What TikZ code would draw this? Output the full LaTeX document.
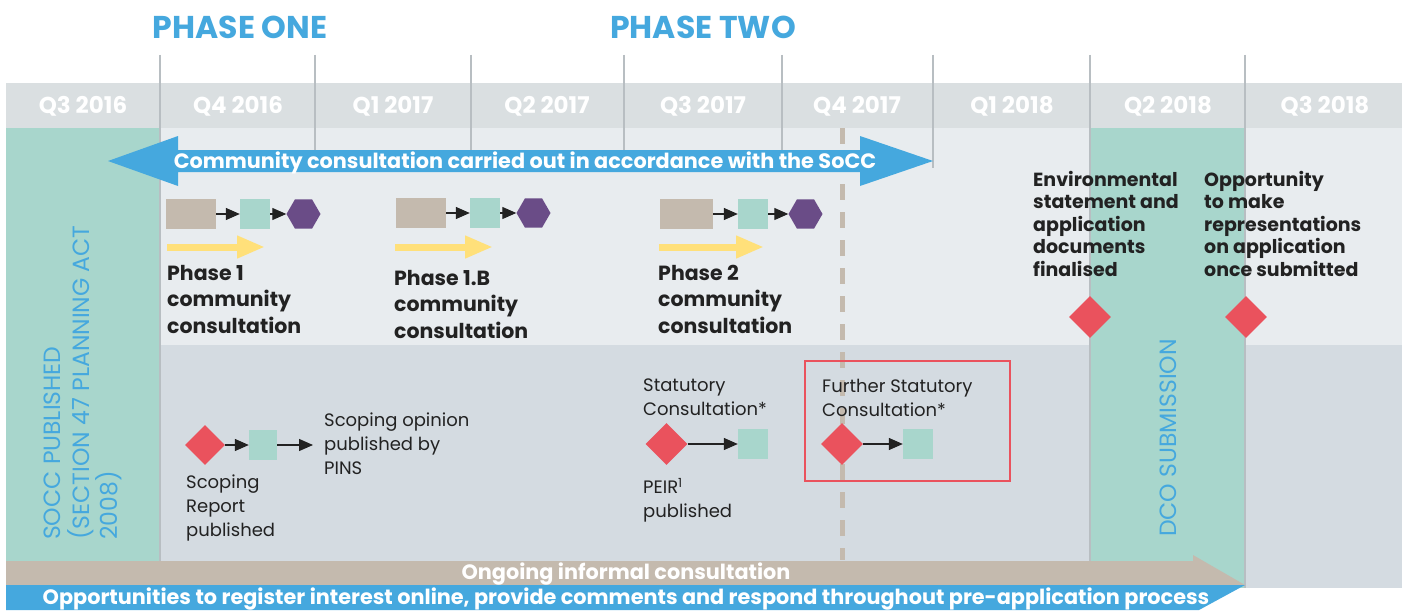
\documentclass[tikz,border=0pt]{standalone}
\usepackage{fontspec}
\setmainfont{Poppins}
\usetikzlibrary{arrows.meta,shapes.geometric}
\definecolor{hdr}{HTML}{DADFE1}
\definecolor{upbg}{HTML}{E8ECEF}
\definecolor{lowbg}{HTML}{D4DBE1}
\definecolor{tealc}{HTML}{A8D6CC}
\definecolor{bluec}{HTML}{45A8DE}
\definecolor{brownc}{HTML}{C4BAAE}
\definecolor{purplec}{HTML}{6A4C87}
\definecolor{redc}{HTML}{EA525D}
\definecolor{yellowc}{HTML}{FFE07A}
\definecolor{darkt}{HTML}{222222}
\definecolor{vlc}{HTML}{B8BEC2}
\begin{document}
\begin{tikzpicture}[x=1pt,y=-1pt,
  qlabel/.style={text=white,font=\bfseries\fontsize{23}{23}\selectfont,inner sep=0pt},
  phasehead/.style={text=bluec,font=\bfseries\fontsize{31.5}{31.5}\selectfont,inner sep=0pt},
  vline/.style={draw=vlc,line width=1.5pt},
  brownbox/.style={fill=brownc,minimum width=50pt,minimum height=30pt,inner sep=0pt},
  tealsq/.style={fill=tealc,minimum width=30pt,minimum height=30pt,inner sep=0pt},
  hexa/.style={regular polygon,regular polygon sides=6,fill=purplec,minimum size=34pt,inner sep=0pt},
  reddia/.style={diamond,fill=redc,minimum width=42pt,minimum height=42pt,inner sep=0pt},
  flow/.style={draw=darkt,line width=1.3pt,-{Triangle[length=14pt,width=12pt]}},
  yarrow/.style={draw=yellowc,line width=7pt,-{Triangle[length=28pt,width=21pt]}},
  phasetxt/.style={text=darkt,font=\bfseries\fontsize{20.5}{26.5}\selectfont,align=left,anchor=north west,inner sep=0pt},
  righttxt/.style={text=darkt,font=\bfseries\fontsize{19}{22.5}\selectfont,align=left,anchor=north west,inner sep=0pt},
  lowtxt/.style={text=darkt,font=\fontsize{18}{24}\selectfont,align=left,anchor=north west,inner sep=0pt},
  verttxt/.style={text=bluec,font=\fontsize{23.5}{28.5}\selectfont,align=left,inner sep=0pt,rotate=90},
  bartxt/.style={text=white,font=\bfseries\fontsize{20.8}{20.8}\selectfont,inner sep=0pt}
]
\useasboundingbox (0,0) rectangle (1407,610);
\fill[white] (0,0) rectangle (1407,610);
% background bands
\fill[hdr] (6,83) rectangle (1402,128);
\fill[upbg] (160,128) rectangle (1402,345);
\fill[lowbg] (160,345) rectangle (1402,588);
\fill[tealc] (6,128) rectangle (160,561);
\fill[tealc] (1090,128) rectangle (1245,588);
% vertical quarter lines
\draw[vline] (160,55) -- (160,561);
\draw[vline] (315,55) -- (315,155);
\draw[vline] (471,55) -- (471,155);
\draw[vline] (624,55) -- (624,155);
\draw[vline] (782,55) -- (782,155);
\draw[vline] (933,55) -- (933,168);
\draw[vline] (1090,55) -- (1090,588);
\draw[vline] (1245,55) -- (1245,588);
% phase headings
\node[phasehead] (p1) at (240,27) {PHASE ONE};
\node[phasehead] (p2) at (703,27) {PHASE TWO};
% quarter labels
\node[qlabel] (q1) at (83,106.5) {Q3 2016};
\node[qlabel] (q2) at (238,106.5) {Q4 2016};
\node[qlabel] (q3) at (393,106.5) {Q1 2017};
\node[qlabel] (q4) at (547,106.5) {Q2 2017};
\node[qlabel] (q5) at (703,106.5) {Q3 2017};
\node[qlabel] (q6) at (857,106.5) {Q4 2017};
\node[qlabel] (q7) at (1012,106.5) {Q1 2018};
\node[qlabel] (q8) at (1168,106.5) {Q2 2018};
\node[qlabel] (q9) at (1325,106.5) {Q3 2018};
% dashed line
\draw[brownc,line width=5pt,dash pattern=on 16pt off 12pt] (842,128) -- (842,560);
% community consultation double arrow
\fill[bluec] (108,161) -- (178,136) -- (178,150) -- (860,150) -- (860,136) -- (933,161)
  -- (860,186) -- (860,172) -- (178,172) -- (178,186) -- cycle;
\node[bartxt] (cc) at (525,163) {Community consultation carried out in accordance with the SoCC};
% vertical labels
\node[verttxt,anchor=north west] (socc) at (44,540) {SOCC PUBLISHED\\(SECTION 47 PLANNING ACT\\2008)};
\node[verttxt] (dco) at (1168,438) {DCO SUBMISSION};
% phase groups
\node[brownbox] (b1) at (191,214) {};
\node[tealsq] (t1) at (255,214) {};
\node[hexa] (h1) at (303.5,214) {};
\draw[flow] (b1) -- (t1);
\draw[flow] (t1) -- (h1);
\coordinate (y1s) at (167,247); \coordinate (y1e) at (265,247);
\draw[yarrow] (y1s) -- (y1e);
\node[phasetxt] (pt1) at (167,265) {Phase 1\\community\\consultation};

\node[brownbox] (b2) at (421,213) {};
\node[tealsq] (t2) at (485,213) {};
\node[hexa] (h2) at (533.5,213) {};
\draw[flow] (b2) -- (t2);
\draw[flow] (t2) -- (h2);
\coordinate (y2s) at (395,247); \coordinate (y2e) at (493,247);
\draw[yarrow] (y2s) -- (y2e);
\node[phasetxt] (pt2) at (394,270) {Phase 1.B\\community\\consultation};

\node[brownbox,minimum width=53pt] (b3) at (686.5,214) {};
\node[tealsq] (t3) at (753,214) {};
\node[hexa] (h3) at (805.5,214) {};
\draw[flow] (b3) -- (t3);
\draw[flow] (t3) -- (h3);
\coordinate (y3s) at (659,247); \coordinate (y3e) at (764,247);
\draw[yarrow] (y3s) -- (y3e);
\node[phasetxt] (pt3) at (658,265) {Phase 2\\community\\consultation};
% right side
\node[righttxt] (env) at (1033,171) {Environmental\\statement and\\application\\documents\\finalised};
\node[righttxt] (opp) at (1204,171) {Opportunity\\to make\\representations\\on application\\once submitted};
\node[reddia] (d1) at (1090,317) {};
\node[reddia] (d2) at (1246,317) {};
% lower: scoping
\node[reddia,minimum width=40pt,minimum height=40pt] (sd) at (205,445) {};
\node[tealsq,minimum width=28pt] (ss) at (263,445) {};
\coordinate (se) at (313,445);
\draw[flow] (sd) -- (ss);
\draw[flow] (ss) -- (se);
\node[lowtxt] (sop) at (324,413) {Scoping opinion\\published by\\PINS};
\node[lowtxt] (srp) at (186,475) {Scoping\\Report\\published};
% statutory
\node[lowtxt] (stt) at (643,379) {Statutory\\Consultation*};
\node[reddia] (std) at (666.5,444) {};
\node[tealsq] (sts) at (753,444) {};
\draw[flow] (std) -- (sts);
\node[lowtxt] (peir) at (643,478) {PEIR\textsuperscript{1}\\published};
% further statutory
\draw[redc,line width=2.5pt] (805,361) rectangle (1010,481);
\node[lowtxt] (fst) at (822,379) {Further Statutory\\Consultation*};
\node[reddia] (fd) at (842,444) {};
\node[tealsq] (fs) at (918,444) {};
\draw[flow] (fd) -- (fs);
% bottom bars
\fill[brownc] (6,561) -- (1193,561) -- (1193,555) -- (1245,585) -- (6,585) -- cycle;
\fill[bluec] (6,585) -- (1245,585) -- (1199,610) -- (6,610) -- cycle;
\node[bartxt] (ong) at (626,574.5) {Ongoing informal consultation};
\node[bartxt] (opps) at (626,599) {Opportunities to register interest online, provide comments and respond throughout pre-application process};
\end{tikzpicture}
\end{document}
